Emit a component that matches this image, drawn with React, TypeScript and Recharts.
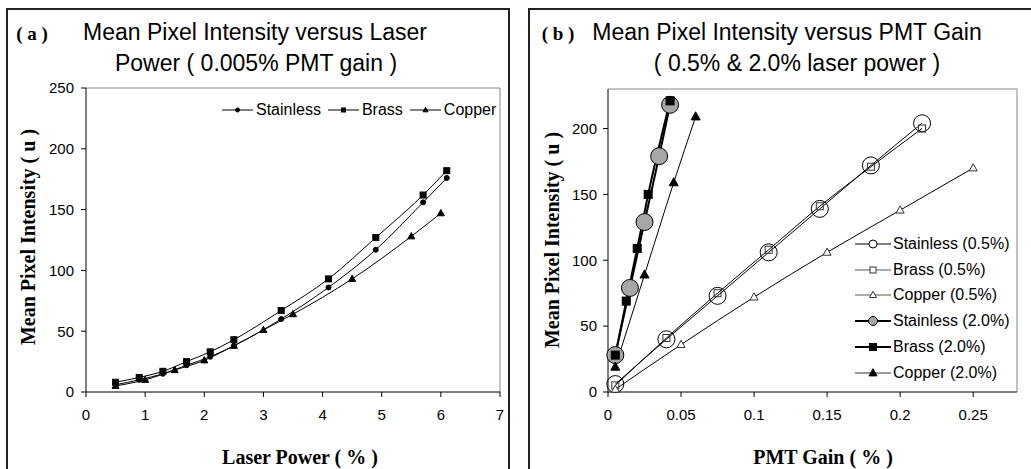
import { Line, LineChart, ReferenceLine, XAxis, YAxis } from 'recharts';

// (a) laser power sweep at 0.005% PMT gain
const stainlessPower = [0.5, 0.9, 1.3, 1.7, 2.1, 2.5, 3.3, 4.1, 4.9, 5.7, 6.1];
const stainlessA = [6, 10, 15, 22, 29, 38, 60, 86, 117, 156, 176];
const brassPower = [0.5, 0.9, 1.3, 1.7, 2.1, 2.5, 3.3, 4.1, 4.9, 5.7, 6.1];
const brassA = [8, 12, 17, 25, 33, 43, 67, 93, 127, 162, 182];
const copperPower = [0.5, 1.0, 1.5, 2.0, 2.5, 3.0, 3.5, 4.5, 5.5, 6.0];
const copperA = [5, 10, 18, 26, 38, 51, 64, 93, 128, 147];

// (b) PMT gain sweep at 0.5% and 2.0% laser power
const stainlessLowGain = [0.005, 0.04, 0.075, 0.11, 0.145, 0.18, 0.215];
const stainlessLow = [6, 40, 73, 106, 139, 172, 204];
const brassLowGain = [0.005, 0.04, 0.075, 0.11, 0.145, 0.18, 0.215];
const brassLow = [5, 41, 75, 108, 141, 171, 200];
const copperLowGain = [0.005, 0.05, 0.1, 0.15, 0.2, 0.25];
const copperLow = [2, 36, 72, 106, 138, 170];
const stainlessHighGain = [0.005, 0.015, 0.025, 0.035, 0.0425];
const stainlessHigh = [28, 79, 129, 179, 218];
const brassHighGain = [0.005, 0.0125, 0.02, 0.0275, 0.0425];
const brassHigh = [28, 69, 109, 150, 221];
const copperHighGain = [0.005, 0.025, 0.045, 0.06];
const copperHigh = [19, 89, 159, 209];

const powerTicks = [0, 1, 2, 3, 4, 5, 6, 7];
const intensityTicksA = [0, 50, 100, 150, 200, 250];
const gainTicks = [0, 0.05, 0.1, 0.15, 0.2, 0.25];
const intensityTicksB = [0, 50, 100, 150, 200];

const SANS = '"Liberation Sans", Arial, sans-serif';
const SERIF = '"Liberation Serif", "Times New Roman", serif';

type Shape = 'circle' | 'square' | 'triangle';
type MarkerStyle = { shape: Shape; size: number; fill: string; stroke: string };

const toPoints = (xs: number[], ys: number[]) => xs.map((x, i) => ({ x, y: ys[i] }));

function Marker({ cx, cy, m }: { cx: number; cy: number; m: MarkerStyle }) {
  const s = m.size;
  if (m.shape === 'circle')
    return <circle cx={cx} cy={cy} r={s / 2} fill={m.fill} stroke={m.stroke} strokeWidth={1} />;
  if (m.shape === 'square')
    return <rect x={cx - s / 2} y={cy - s / 2} width={s} height={s} fill={m.fill} stroke={m.stroke} strokeWidth={1} />;
  const h = s * 0.9;
  return (
    <polygon
      points={`${cx},${cy - h * 0.6} ${cx - s / 2},${cy + h * 0.4} ${cx + s / 2},${cy + h * 0.4}`}
      fill={m.fill}
      stroke={m.stroke}
      strokeWidth={1}
    />
  );
}

const dotOf = (m: MarkerStyle) => (props: any) => {
  const { cx, cy, index } = props;
  if (cx == null || cy == null) return <g key={index} />;
  return <Marker key={index} cx={cx} cy={cy} m={m} />;
};

type Series = {
  name: string;
  xs: number[];
  ys: number[];
  marker: MarkerStyle;
  legendMarker: MarkerStyle;
  width: number;
  legendStroke: string;
};

const seriesA: Series[] = [
  {
    name: 'Stainless', xs: stainlessPower, ys: stainlessA, width: 1, legendStroke: '#000',
    marker: { shape: 'circle', size: 5, fill: '#000', stroke: '#000' },
    legendMarker: { shape: 'circle', size: 4, fill: '#000', stroke: '#000' },
  },
  {
    name: 'Brass', xs: brassPower, ys: brassA, width: 1, legendStroke: '#000',
    marker: { shape: 'square', size: 6, fill: '#000', stroke: '#000' },
    legendMarker: { shape: 'square', size: 4, fill: '#000', stroke: '#000' },
  },
  {
    name: 'Copper', xs: copperPower, ys: copperA, width: 1, legendStroke: '#000',
    marker: { shape: 'triangle', size: 7, fill: '#000', stroke: '#000' },
    legendMarker: { shape: 'triangle', size: 5, fill: '#000', stroke: '#000' },
  },
];

const seriesB: Series[] = [
  {
    name: 'Stainless (0.5%)', xs: stainlessLowGain, ys: stainlessLow, width: 1, legendStroke: '#000',
    marker: { shape: 'circle', size: 17, fill: 'none', stroke: '#000' },
    legendMarker: { shape: 'circle', size: 8, fill: '#fff', stroke: '#000' },
  },
  {
    name: 'Brass (0.5%)', xs: brassLowGain, ys: brassLow, width: 1, legendStroke: '#555',
    marker: { shape: 'square', size: 7, fill: 'none', stroke: '#333' },
    legendMarker: { shape: 'square', size: 6, fill: '#fff', stroke: '#333' },
  },
  {
    name: 'Copper (0.5%)', xs: copperLowGain, ys: copperLow, width: 1, legendStroke: '#555',
    marker: { shape: 'triangle', size: 8, fill: '#fff', stroke: '#333' },
    legendMarker: { shape: 'triangle', size: 7, fill: '#fff', stroke: '#333' },
  },
  {
    name: 'Stainless (2.0%)', xs: stainlessHighGain, ys: stainlessHigh, width: 2, legendStroke: '#000',
    marker: { shape: 'circle', size: 17, fill: '#a6a6a6', stroke: '#000' },
    legendMarker: { shape: 'circle', size: 9, fill: '#a6a6a6', stroke: '#000' },
  },
  {
    name: 'Brass (2.0%)', xs: brassHighGain, ys: brassHigh, width: 2, legendStroke: '#000',
    marker: { shape: 'square', size: 8, fill: '#000', stroke: '#000' },
    legendMarker: { shape: 'square', size: 7, fill: '#000', stroke: '#000' },
  },
  {
    name: 'Copper (2.0%)', xs: copperHighGain, ys: copperHigh, width: 1, legendStroke: '#333',
    marker: { shape: 'triangle', size: 9, fill: '#000', stroke: '#000' },
    legendMarker: { shape: 'triangle', size: 8, fill: '#000', stroke: '#000' },
  },
];

const tickStyle = { fontSize: 15, fill: '#000', fontFamily: SANS };

function Txt({ cx, cy, children, style, rotate }: any) {
  return (
    <div
      style={{
        position: 'absolute',
        left: cx,
        top: cy,
        transform: `translate(-50%, -50%)${rotate ? ' rotate(-90deg)' : ''}`,
        whiteSpace: 'nowrap',
        lineHeight: 1,
        color: '#000',
        ...style,
      }}
    >
      {children}
    </div>
  );
}

function LegendKey({ s, w }: { s: Series; w: number }) {
  return (
    <svg width={w} height={14} style={{ display: 'block' }}>
      <line x1={0} x2={w} y1={7} y2={7} stroke={s.legendStroke} strokeWidth={s.width} />
      <Marker cx={w / 2} cy={7} m={s.legendMarker} />
    </svg>
  );
}

const AXIS_W = 40;
const AXIS_H = 30;

export default function App() {
  const titleFont = { fontFamily: SANS, fontSize: 23 };
  const boldSerif = { fontFamily: SERIF, fontWeight: 700, fontSize: 20 };
  return (
    <div
      style={{
        position: 'absolute',
        left: 0,
        top: 0,
        width: 1031,
        height: 469,
        overflow: 'hidden',
        background: '#fff',
      }}
    >
      {/* panel frames */}
      <div style={{ position: 'absolute', left: 6, top: 8, width: 504, height: 500, border: '2px solid #222', boxSizing: 'border-box' }} />
      <div style={{ position: 'absolute', left: 528, top: 8, width: 560, height: 500, border: '2px solid #222', boxSizing: 'border-box' }} />

      {/* panel (a) */}
      <div style={{ position: 'absolute', left: 0, top: 0 }}>
        <LineChart width={510} height={469} margin={{ top: 88, right: 10, bottom: 77 - AXIS_H, left: 86 - AXIS_W }}>
          <XAxis
            type="number"
            dataKey="x"
            domain={[0, 7]}
            ticks={powerTicks}
            height={AXIS_H}
            tickSize={5}
            tickMargin={12}
            tick={tickStyle}
            axisLine={{ stroke: '#000' }}
            tickLine={{ stroke: '#000' }}
          />
          <YAxis
            type="number"
            domain={[0, 250]}
            ticks={intensityTicksA}
            width={AXIS_W}
            tickSize={5}
            tickMargin={7}
            tick={tickStyle}
            axisLine={{ stroke: '#000' }}
            tickLine={{ stroke: '#000' }}
          />
          <ReferenceLine y={250} stroke="#888" />
          <ReferenceLine x={7} stroke="#888" />
          {seriesA.map((s) => (
            <Line
              key={s.name}
              data={toPoints(s.xs, s.ys)}
              dataKey="y"
              type="monotone"
              stroke="#000"
              strokeWidth={s.width}
              dot={dotOf(s.marker)}
              activeDot={false}
              isAnimationActive={false}
            />
          ))}
        </LineChart>
      </div>

      {/* panel (b) */}
      <div style={{ position: 'absolute', left: 515, top: 0 }}>
        <LineChart width={516} height={469} margin={{ top: 89, right: 14, bottom: 77 - AXIS_H, left: 93 - AXIS_W }}>
          <XAxis
            type="number"
            dataKey="x"
            domain={[0, 0.28]}
            ticks={gainTicks}
            height={AXIS_H}
            tickSize={5}
            tickMargin={12}
            tick={tickStyle}
            axisLine={{ stroke: '#000' }}
            tickLine={{ stroke: '#000' }}
          />
          <YAxis
            type="number"
            domain={[0, 230]}
            ticks={intensityTicksB}
            width={AXIS_W}
            tickSize={5}
            tickMargin={6}
            tick={tickStyle}
            axisLine={{ stroke: '#000' }}
            tickLine={{ stroke: '#000' }}
          />
          <ReferenceLine y={230} stroke="#888" />
          <ReferenceLine x={0.28} stroke="#888" />
          {seriesB.map((s) => (
            <Line
              key={s.name}
              data={toPoints(s.xs, s.ys)}
              dataKey="y"
              type="monotone"
              stroke="#000"
              strokeWidth={s.width}
              dot={dotOf(s.marker)}
              activeDot={false}
              isAnimationActive={false}
            />
          ))}
        </LineChart>
      </div>

      {/* titles */}
      <Txt cx={32} cy={33} style={{ ...boldSerif, fontSize: 19 }}>( a )</Txt>
      <Txt cx={255} cy={32} style={titleFont}>Mean Pixel Intensity versus Laser</Txt>
      <Txt cx={256} cy={63} style={titleFont}>Power ( 0.005% PMT gain )</Txt>
      <Txt cx={558} cy={33} style={{ ...boldSerif, fontSize: 19 }}>( b )</Txt>
      <Txt cx={787} cy={32} style={titleFont}>Mean Pixel Intensity versus PMT Gain</Txt>
      <Txt cx={797} cy={63} style={titleFont}>( 0.5% &amp; 2.0% laser power )</Txt>

      {/* axis titles */}
      <Txt cx={28} cy={237} rotate style={boldSerif}>Mean Pixel Intensity ( u )</Txt>
      <Txt cx={300} cy={457} style={boldSerif}>Laser Power ( % )</Txt>
      <Txt cx={552} cy={240} rotate style={boldSerif}>Mean Pixel Intensity ( u )</Txt>
      <Txt cx={823} cy={457} style={boldSerif}>PMT Gain ( % )</Txt>

      {/* legend (a) */}
      <div style={{ position: 'absolute', left: 222, top: 101, display: 'flex', alignItems: 'center', fontFamily: SANS, fontSize: 16 }}>
        {seriesA.map((s) => (
          <div key={s.name} style={{ display: 'flex', alignItems: 'center', marginRight: 7 }}>
            <LegendKey s={s} w={31} />
            <span style={{ marginLeft: 3, lineHeight: '18px' }}>{s.name}</span>
          </div>
        ))}
      </div>

      {/* legend (b) */}
      <div style={{ position: 'absolute', left: 855, top: 231, fontFamily: SANS, fontSize: 16 }}>
        {seriesB.map((s) => (
          <div key={s.name} style={{ display: 'flex', alignItems: 'center', height: 25.8 }}>
            <LegendKey s={s} w={36} />
            <span style={{ marginLeft: 2 }}>{s.name}</span>
          </div>
        ))}
      </div>
    </div>
  );
}
